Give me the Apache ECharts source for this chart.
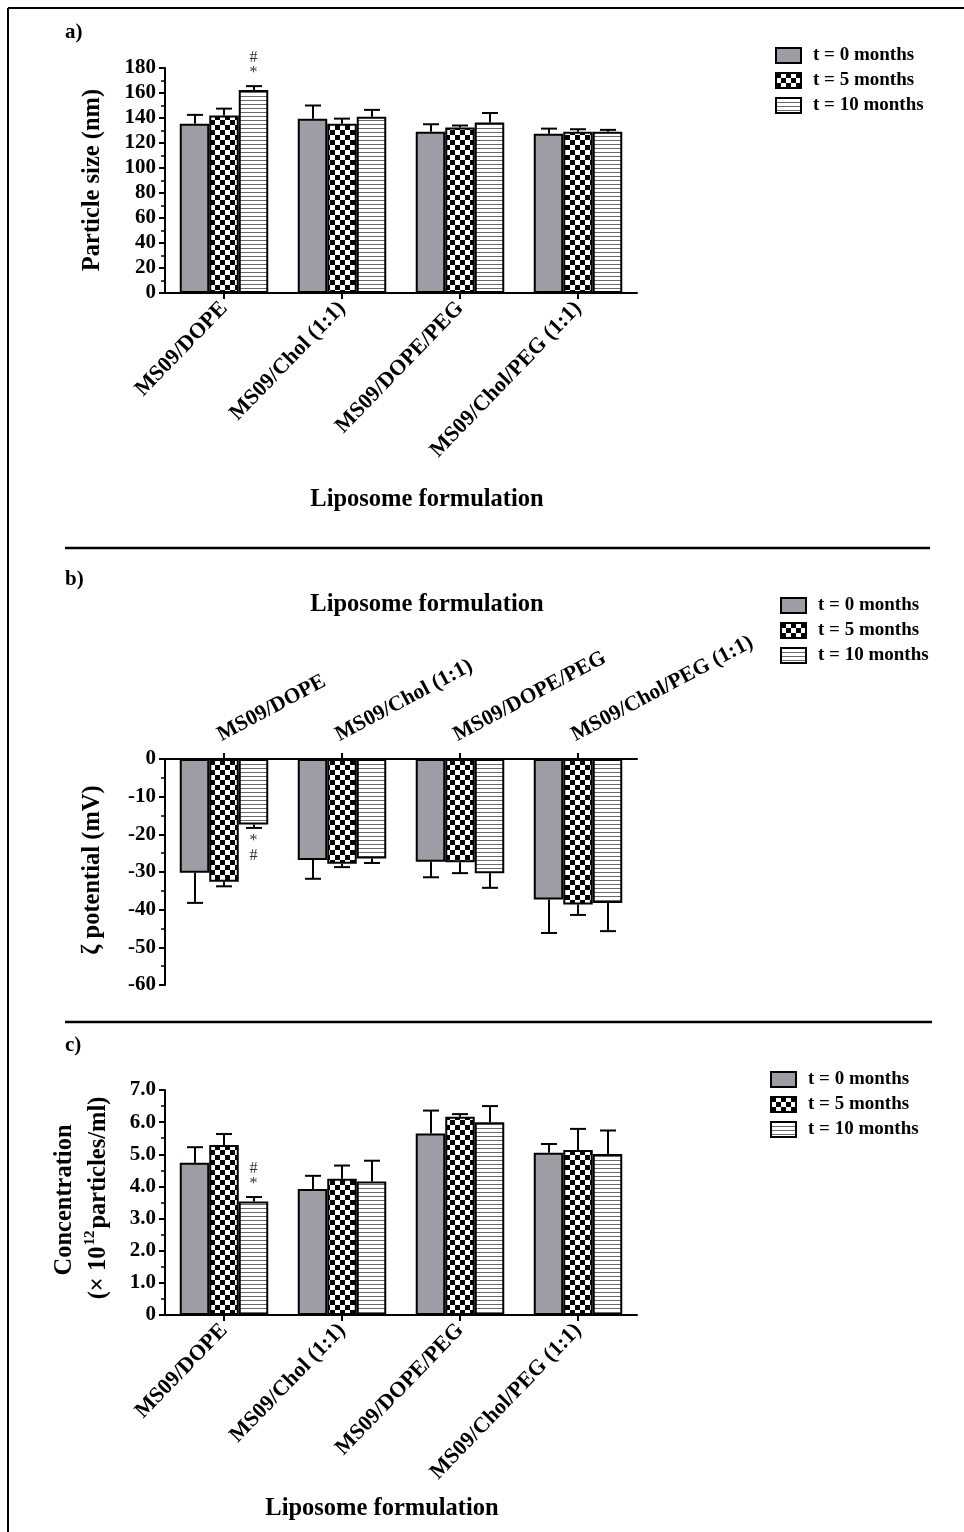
<!DOCTYPE html>
<html>
<head>
<meta charset="utf-8">
<script src="https://cdn.jsdelivr.net/npm/echarts@6/dist/echarts.min.js"></script>
<style>
  html, body { margin: 0; padding: 0; background: #fff; }
  #chart { width: 964px; height: 1532px; }
</style>
</head>
<body>
<div id="chart"></div>
<script>
// Liposome formulations and storage time points
const categories = ['MS09/DOPE', 'MS09/Chol (1:1)', 'MS09/DOPE/PEG', 'MS09/Chol/PEG (1:1)'];
const seriesNames = ['t = 0 months', 't = 5 months', 't = 10 months'];

// a) Particle size (nm): mean and SD, one row per time point
const sizeMean = [
  [135.5, 139.5, 129, 127.5],
  [142, 135.5, 132.5, 129],
  [162.5, 141, 136.5, 129]
];
const sizeErr = [
  [7, 10.5, 6, 4],
  [5.5, 4, 1.5, 2],
  [3, 5.5, 7.5, 1.5]
];

// b) Zeta potential (mV)
const zetaMean = [
  [-30.2, -26.8, -27.3, -37.3],
  [-32.6, -27.8, -27.4, -38.6],
  [-17.4, -26.4, -30.3, -38.2]
];
const zetaErr = [
  [8, 5, 4.1, 8.9],
  [1.2, 0.9, 2.9, 2.8],
  [0.9, 1.2, 3.9, 7.5]
];

// c) Concentration (x 10^12 particles/ml)
const concMean = [
  [4.74, 3.92, 5.65, 5.05],
  [5.29, 4.24, 6.17, 5.13],
  [3.53, 4.15, 6.0, 5.01]
];
const concErr = [
  [0.48, 0.41, 0.71, 0.27],
  [0.34, 0.41, 0.08, 0.66],
  [0.14, 0.65, 0.5, 0.73]
];

// Value-axis ranges: [min, max, step]
const sizeAxis = [0, 180, 20];
const zetaAxis = [-60, 0, 10];
const concAxis = [0, 7, 1];

// Significance marks: [category, time point, symbols from the bar outward]
const sizeMarks = [[0, 2, ['*', '#']]];
const zetaMarks = [[0, 2, ['*', '#']]];
const concMarks = [[0, 2, ['*', '#']]];

const FONT = "'Liberation Serif', 'Times New Roman', serif";
const BAR_W = 29.5;

function checkerTile() {
  const c = document.createElement('canvas');
  c.width = 10; c.height = 10;
  const g = c.getContext('2d');
  g.fillStyle = '#fff'; g.fillRect(0, 0, 10, 10);
  g.fillStyle = '#000'; g.fillRect(0, 0, 5, 5); g.fillRect(5, 5, 5, 5);
  return c;
}
function stripeTile() {
  const c = document.createElement('canvas');
  c.width = 4; c.height = 4;
  const g = c.getContext('2d');
  g.fillStyle = '#fff'; g.fillRect(0, 0, 4, 4);
  g.fillStyle = '#6a6a6a'; g.fillRect(0, 0, 4, 1);
  return c;
}
const fills = [
  '#9e9da5',
  { image: checkerTile(), repeat: 'repeat' },
  { image: stripeTile(), repeat: 'repeat' }
];

function barSeries(gi, means) {
  return means.map((vals, si) => ({
    type: 'bar', name: seriesNames[si], xAxisIndex: gi, yAxisIndex: gi,
    data: vals, barWidth: BAR_W, barGap: '0%',
    itemStyle: { color: fills[si], borderColor: '#000', borderWidth: 2 },
    silent: true
  }));
}

function errSeries(gi, means, errs) {
  const data = [];
  means.forEach((vals, si) => vals.forEach((v, ci) => data.push([ci, v, errs[si][ci], si])));
  return {
    type: 'custom', xAxisIndex: gi, yAxisIndex: gi, data, z: 5, silent: true,
    renderItem: (params, api) => {
      const ci = api.value(0), v = api.value(1), e = api.value(2), si = api.value(3);
      const end = v >= 0 ? v + e : v - e;
      const p0 = api.coord([ci, v]);
      const p1 = api.coord([ci, end]);
      const x = Math.round(p0[0] + (si - 1) * BAR_W);
      const st = { stroke: '#000', lineWidth: 2 };
      return {
        type: 'group', children: [
          { type: 'line', shape: { x1: x, y1: p0[1], x2: x, y2: p1[1] }, style: st },
          { type: 'line', shape: { x1: x - 8, y1: p1[1], x2: x + 8, y2: p1[1] }, style: st }
        ]
      };
    }
  };
}

function markSeries(gi, means, errs, marks) {
  const data = marks.map(m => {
    const v = means[m[1]][m[0]], e = errs[m[1]][m[0]];
    return [m[0], v >= 0 ? v + e : v - e, m[1], v >= 0 ? -1 : 1, m[2].join('')];
  });
  return {
    type: 'custom', xAxisIndex: gi, yAxisIndex: gi, data, z: 6, silent: true, clip: false,
    renderItem: (params, api) => {
      const ci = api.value(0), end = api.value(1), si = api.value(2), dir = api.value(3);
      const syms = String(data[params.dataIndex][4]).split('');
      const p = api.coord([ci, end]);
      const x = p[0] + (si - 1) * BAR_W;
      return {
        type: 'group',
        children: syms.map((s, k) => ({
          type: 'text',
          style: {
            text: s, x: x, y: p[1] + dir * (13 + k * 15),
            align: 'center', verticalAlign: 'middle',
            font: '16px ' + FONT, fill: '#333'
          }
        }))
      };
    }
  };
}

const axisLabelStyle = { color: '#000', fontFamily: FONT, fontWeight: 'bold', fontSize: 21 };

function xAxisFor(gi, pos, label) {
  return {
    type: 'category', gridIndex: gi, data: categories, position: pos,
    axisLine: { show: true, lineStyle: { color: '#000', width: 2 } },
    axisTick: { show: true, alignWithLabel: true, length: 6, lineStyle: { color: '#000', width: 2 } },
    axisLabel: Object.assign({}, axisLabelStyle, { interval: 0 }, label),
    splitLine: { show: false }
  };
}

function yAxisFor(gi, rng, fmt) {
  return {
    type: 'value', gridIndex: gi, min: rng[0], max: rng[1], interval: rng[2],
    axisLine: { show: true, onZero: false, lineStyle: { color: '#000', width: 2 } },
    axisTick: { show: true, length: 6, lineStyle: { color: '#000', width: 2 } },
    minorTick: { show: true, splitNumber: 2, length: 4, lineStyle: { color: '#000', width: 1.5 } },
    axisLabel: Object.assign({ margin: 9, formatter: fmt }, axisLabelStyle),
    splitLine: { show: false }
  };
}

function legendAt(left, top) {
  return {
    orient: 'vertical', left, top, data: seriesNames, icon: 'rect', padding: 0,
    itemWidth: 25, itemHeight: 15, itemGap: 6, selectedMode: false,
    textStyle: { color: '#000', fontFamily: FONT, fontWeight: 'bold', fontSize: 19, lineHeight: 19, padding: [0, 0, 0, 7] }
  };
}

const textBold = (size) => 'bold ' + size + 'px ' + FONT;
const bottomLabels = { rotate: 46, margin: 12, fontSize: 22 };
const topLabels = { rotate: 28, margin: 13, fontSize: 21.5, verticalAlign: 'bottom' };

const chart = echarts.init(document.getElementById('chart'), null, { renderer: 'canvas' });
chart.setOption({
  animation: false,
  backgroundColor: '#fff',
  grid: [
    { left: 165, top: 68, width: 472, height: 225 },
    { left: 165, top: 759, width: 472, height: 226 },
    { left: 165, top: 1090, width: 472, height: 225 }
  ],
  xAxis: [xAxisFor(0, 'bottom', bottomLabels), xAxisFor(1, 'top', topLabels), xAxisFor(2, 'bottom', bottomLabels)],
  yAxis: [
    yAxisFor(0, sizeAxis),
    yAxisFor(1, zetaAxis),
    yAxisFor(2, concAxis, v => (v === 0 ? '0' : v.toFixed(1)))
  ],
  legend: [legendAt(775, 46), legendAt(780, 596), legendAt(770, 1070)],
  series: [].concat(
    barSeries(0, sizeMean), [errSeries(0, sizeMean, sizeErr), markSeries(0, sizeMean, sizeErr, sizeMarks)],
    barSeries(1, zetaMean), [errSeries(1, zetaMean, zetaErr), markSeries(1, zetaMean, zetaErr, zetaMarks)],
    barSeries(2, concMean), [errSeries(2, concMean, concErr), markSeries(2, concMean, concErr, concMarks)]
  ),
  graphic: [
    // frame and panel dividers
    { type: 'line', shape: { x1: 8, y1: 8, x2: 964, y2: 8 }, style: { stroke: '#000', lineWidth: 2 } },
    { type: 'line', shape: { x1: 8, y1: 8, x2: 8, y2: 1532 }, style: { stroke: '#000', lineWidth: 2 } },
    { type: 'line', shape: { x1: 65, y1: 548, x2: 930, y2: 548 }, style: { stroke: '#000', lineWidth: 2.5 } },
    { type: 'line', shape: { x1: 65, y1: 1022, x2: 932, y2: 1022 }, style: { stroke: '#000', lineWidth: 2.5 } },
    // panel letters
    { type: 'text', style: { text: 'a)', x: 65, y: 33, verticalAlign: 'middle', font: textBold(21), fill: '#000' } },
    { type: 'text', style: { text: 'b)', x: 65, y: 580, verticalAlign: 'middle', font: textBold(21), fill: '#000' } },
    { type: 'text', style: { text: 'c)', x: 65, y: 1046, verticalAlign: 'middle', font: textBold(21), fill: '#000' } },
    // x-axis titles
    { type: 'text', style: { text: 'Liposome formulation', x: 427, y: 500, align: 'center', verticalAlign: 'middle', font: textBold(24.5), fill: '#000' } },
    { type: 'text', style: { text: 'Liposome formulation', x: 427, y: 605, align: 'center', verticalAlign: 'middle', font: textBold(24.5), fill: '#000' } },
    { type: 'text', style: { text: 'Liposome formulation', x: 382, y: 1509, align: 'center', verticalAlign: 'middle', font: textBold(24.5), fill: '#000' } },
    // y-axis titles
    { type: 'text', x: 93, y: 180, rotation: Math.PI / 2, style: { text: 'Particle size (nm)', x: 0, y: 0, align: 'center', verticalAlign: 'middle', font: textBold(24.5), fill: '#000' } },
    { type: 'text', x: 93, y: 870, rotation: Math.PI / 2, style: { text: 'ζ potential (mV)', x: 0, y: 0, align: 'center', verticalAlign: 'middle', font: textBold(24.5), fill: '#000' } },
    { type: 'text', x: 65, y: 1200, rotation: Math.PI / 2, style: { text: 'Concentration', x: 0, y: 0, align: 'center', verticalAlign: 'middle', font: textBold(24.5), fill: '#000' } },
    { type: 'text', x: 97, y: 1198, rotation: Math.PI / 2, style: {
        text: '{n|(× 10}{s|12}{n|particles/ml)}', x: 0, y: 0, align: 'center', verticalAlign: 'middle',
        rich: {
          n: { font: textBold(24.5), fill: '#000', lineHeight: 28, verticalAlign: 'bottom' },
          s: { font: textBold(15), fill: '#000', lineHeight: 28, verticalAlign: 'top', padding: [0, 2, 0, 1] }
        }
      } }
  ]
});
</script>
</body>
</html>
